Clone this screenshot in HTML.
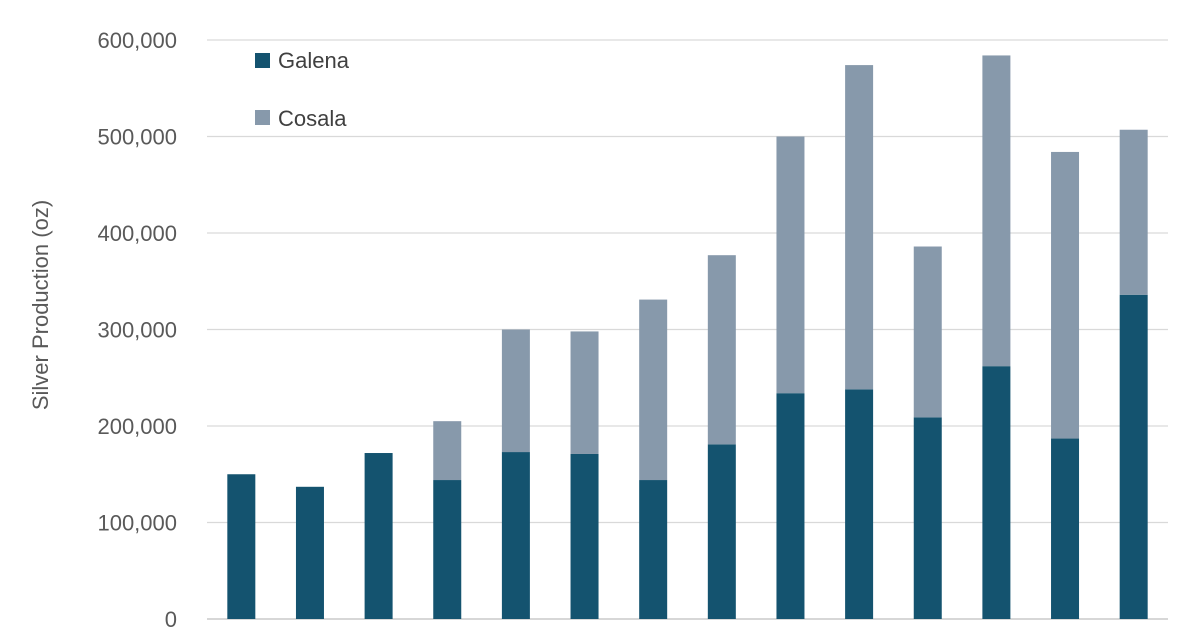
<!DOCTYPE html>
<html><head><meta charset="utf-8"><style>
html,body{margin:0;padding:0;background:#fff;}
svg{display:block;font-family:"Liberation Sans",sans-serif;}
</style></head><body>
<svg id="chart" width="1200" height="630" viewBox="0 0 1200 630">
<g id="grid"></g>
<g id="ylabels"></g>
<g id="bars"></g>
<text x="48" y="305" transform="rotate(-90 48 305)" text-anchor="middle" font-size="22" fill="#595959">Silver Production (oz)</text>
<g>
<g>
<rect x="255" y="53" width="15" height="15" fill="#14536f"/>
<text x="278" y="68" font-size="22" fill="#404040">Galena</text></g>
<g>
<rect x="255" y="110" width="15" height="15" fill="#8799ab"/>
<text x="278" y="126" font-size="22" fill="#404040">Cosala</text></g>
</g>
</svg>
<script>
const categories = ["P1","P2","P3","P4","P5","P6","P7","P8","P9","P10","P11","P12","P13","P14"];
const galena = [150000,137000,172000,144000,173000,171000,144000,181000,234000,238000,209000,262000,187000,336000];
const cosala = [0,0,0,61000,127000,127000,187000,196000,266000,336000,177000,322000,297000,171000];
const yTicks = [0,100000,200000,300000,400000,500000,600000];
const yTickLabels = ["0","100,000","200,000","300,000","400,000","500,000","600,000"];
const NS="http://www.w3.org/2000/svg";
const x0=207,x1=1168,yBase=619,yTop=40,yMax=600000;
const y=v=>yBase-(v/yMax)*(yBase-yTop);
const band=(x1-x0)/categories.length;
const xc=i=>x0+band*(i+0.5);
const bw=28;
function mk(tag,attrs,parent){const e=document.createElementNS(NS,tag);for(const k in attrs)e.setAttribute(k,attrs[k]);parent.appendChild(e);return e;}
const grid=document.getElementById('grid'),yl=document.getElementById('ylabels'),bars=document.getElementById('bars');
yTicks.forEach((t,i)=>{
  const l=mk('line',{x1:x0,x2:x1,y1:y(t),y2:y(t),stroke:i===0?'#bfbfbf':'#d9d9d9','stroke-width':1.3},grid);
  
  
  const tx=mk('text',{x:177,y:y(t)+8,'text-anchor':'end','font-size':22,fill:'#595959'},yl);
  tx.textContent=yTickLabels[i];
  
  
});
categories.forEach((c,i)=>{
  const g=mk('rect',{x:xc(i)-bw/2,y:y(galena[i]),width:bw,height:yBase-y(galena[i]),fill:'#14536f'},bars);
  
  
  if(cosala[i]>0){
    const top=y(galena[i]+cosala[i]);
    const r=mk('rect',{x:xc(i)-bw/2,y:top,width:bw,height:y(galena[i])-top,fill:'#8799ab'},bars);
    
    
  }
});
</script>
</body></html>
